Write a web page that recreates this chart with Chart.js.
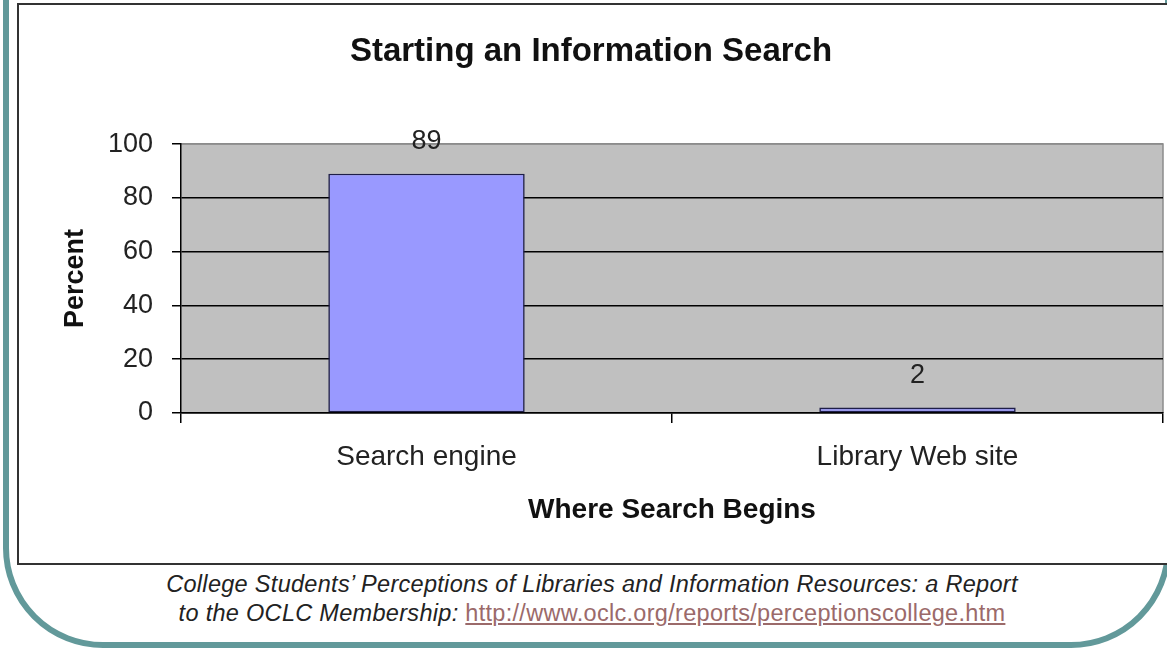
<!DOCTYPE html>
<html>
<head>
<meta charset="utf-8">
<title>Starting an Information Search</title>
<script src="https://cdn.jsdelivr.net/npm/chart.js@4.4.1/dist/chart.umd.min.js"></script>
<style>
    html, body {
        margin: 0;
        padding: 0;
        width: 1167px;
        height: 649px;
        overflow: hidden;
        background: #fff;
        font-family: "Liberation Sans", Arial, sans-serif;
    }
    .slide-frame {
        position: absolute;
        left: 3px;
        top: -20px;
        width: 1168px;
        height: 668px;
        box-sizing: border-box;
        border: 6px solid #62999a;
        border-radius: 0 0 100px 100px;
    }
    .chart-box {
        position: absolute;
        left: 17px;
        top: 3px;
        width: 1170px;
        height: 562px;
        box-sizing: border-box;
        border: 2px solid #333;
        background: #fff;
    }
    .chart-wrap {
        position: absolute;
        left: 19px;
        top: 5px;
        width: 1148px;
        height: 557px;
    }
    .caption {
        position: absolute;
        left: 0;
        width: 1184px;
        text-align: center;
        font-style: italic;
        font-size: 23.5px;
        line-height: 29px;
        letter-spacing: 0.3px;
        color: #222;
    }
    .caption a {
        color: #9b6a6a;
        font-style: normal;
        text-decoration: underline;
    }
</style>
</head>
<body>
<div class="slide-frame"></div>
<div class="chart-box"></div>
<div class="chart-wrap"><canvas id="searchChart"></canvas></div>
<div class="caption" style="top:570px">College Students&#8217; Perceptions of Libraries and Information Resources: a Report</div>
<div class="caption" style="top:599px">to the OCLC Membership: <a>http://www.oclc.org/reports/perceptionscollege.htm</a></div>

<script>
    'use strict';

    // data
    const categories = ['Search engine', 'Library Web site'];
    const percentValues = [89, 2];
    const yTicks = [0, 20, 40, 60, 80, 100];

    const chartTitle = 'Starting an Information Search';
    const xTitle = 'Where Search Begins';
    const yTitle = 'Percent';

    const fontFamily = '"Liberation Sans", Arial, sans-serif';

    // gray plot background + thin gray frame on top/right
    const plotBackground = {
        id: 'plotBackground',
        beforeDraw: function(chart) {
            const a = chart.chartArea;
            const ctx = chart.ctx;
            ctx.save();
            ctx.fillStyle = '#c0c0c0';
            ctx.fillRect(a.left, a.top, a.right - a.left, a.bottom - a.top);
            ctx.strokeStyle = '#8c8c8c';
            ctx.lineWidth = 1.5;
            ctx.beginPath();
            ctx.moveTo(a.left, a.top);
            ctx.lineTo(a.right, a.top);
            ctx.lineTo(a.right, a.bottom);
            ctx.stroke();
            ctx.restore();
        }
    };

    // value labels above the bars
    const valueLabels = {
        id: 'valueLabels',
        afterDatasetsDraw: function(chart) {
            const ctx = chart.ctx;
            const meta = chart.getDatasetMeta(0);
            ctx.save();
            ctx.font = '27px ' + fontFamily;
            ctx.fillStyle = '#222';
            ctx.textAlign = 'center';
            ctx.textBaseline = 'middle';
            meta.data.forEach(function(bar, i) {
                ctx.fillText(String(percentValues[i]), bar.x, bar.y - 32);
            });
            ctx.restore();
        }
    };

    const ctx = document.getElementById('searchChart').getContext('2d');

    new Chart(ctx, {
        type: 'bar',
        data: {
            labels: categories,
            datasets: [{
                label: yTitle,
                data: percentValues,
                backgroundColor: '#9999ff',
                borderColor: '#1e1e48',
                borderWidth: 1.6,
                borderSkipped: false,
                barPercentage: 0.4,
                categoryPercentage: 1.0
            }]
        },
        options: {
            responsive: true,
            maintainAspectRatio: false,
            animation: false,
            layout: { padding: { left: 0, right: 4, top: 0, bottom: 0 } },
            plugins: {
                legend: { display: false },
                tooltip: { enabled: false },
                title: {
                    display: true,
                    text: chartTitle,
                    color: '#111',
                    font: { family: fontFamily, size: 33, weight: 'bold' },
                    padding: { top: 27, bottom: 72.5 }
                }
            },
            scales: {
                x: {
                    offset: true,
                    grid: {
                        drawOnChartArea: false,
                        drawTicks: true,
                        tickLength: 10,
                        color: '#000',
                        lineWidth: 1.5
                    },
                    border: { display: true, color: '#000', width: 1.5 },
                    ticks: {
                        color: '#222',
                        padding: 17,
                        font: { family: fontFamily, size: 28 }
                    },
                    title: {
                        display: true,
                        text: xTitle,
                        color: '#111',
                        font: { family: fontFamily, size: 28, weight: 'bold' },
                        padding: { top: 0, bottom: 35 }
                    },
                    afterFit: function(scale) { scale.height = 149; }
                },
                y: {
                    min: 0,
                    max: 100,
                    afterBuildTicks: function(scale) {
                        scale.ticks = yTicks.map(function(v) { return { value: v }; });
                    },
                    grid: {
                        color: function(c) { return c.tick && c.tick.value === 100 ? '#8c8c8c' : '#000'; },
                        tickColor: '#000',
                        lineWidth: 1.5,
                        drawTicks: true,
                        tickLength: 9
                    },
                    border: { display: true, color: '#000', width: 1.5 },
                    ticks: {
                        color: '#222',
                        padding: 19,
                        font: { family: fontFamily, size: 27 }
                    },
                    title: {
                        display: true,
                        text: yTitle,
                        color: '#111',
                        font: { family: fontFamily, size: 27, weight: 'bold' },
                        padding: { top: 40, bottom: 0 }
                    },
                    afterFit: function(scale) { scale.width = 162; }
                }
            }
        },
        plugins: [plotBackground, valueLabels]
    });
</script>
</body>
</html>
